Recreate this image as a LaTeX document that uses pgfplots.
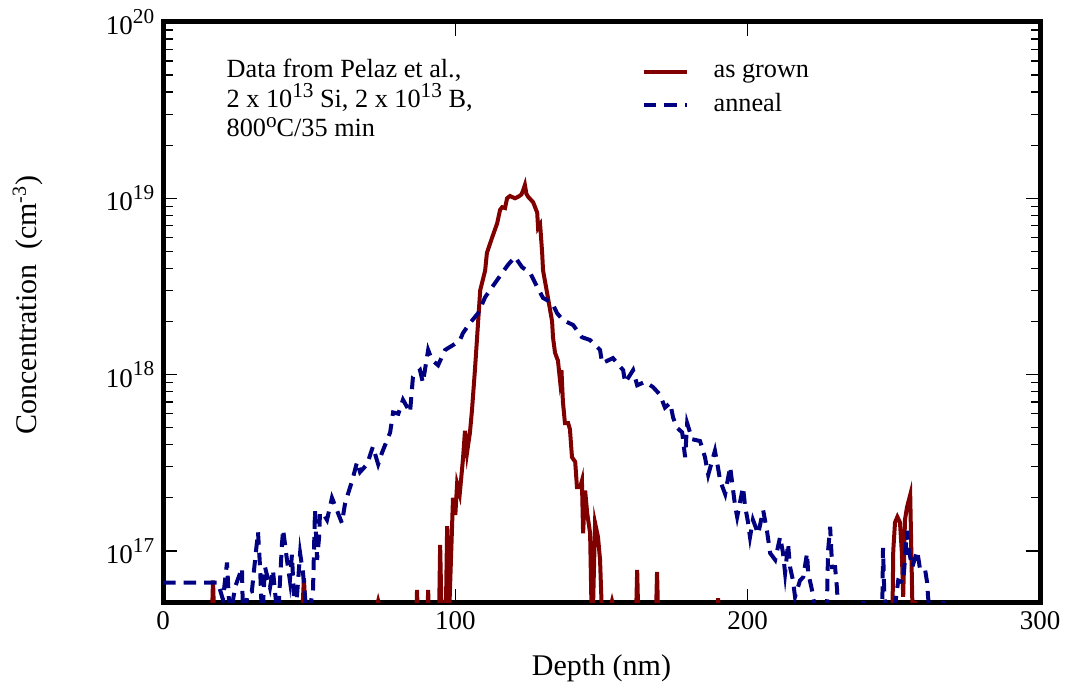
\documentclass[border=0pt]{standalone}
\usepackage{fontspec}
\setmainfont{Liberation Serif}
\usepackage{pgfplots}
\pgfplotsset{compat=1.18}
\definecolor{grown}{RGB}{128,0,0}
\definecolor{anneal}{RGB}{0,0,128}
\newcommand\sups[1]{\raisebox{0.42em}{\fontsize{8.5pt}{10pt}\selectfont #1}}
\newcommand\asups[1]{\smash{\raisebox{0.36em}{\fontsize{8.5pt}{10pt}\selectfont #1}}}
\begin{document}
\begin{tikzpicture}
\begin{axis}[
  scale only axis, width=350.8pt, height=232.4pt,
  xmin=0, xmax=300, ymode=log, ymin=5.07e16, ymax=1e20,
  xtick={0,100,200,300}, minor x tick num=0,
  ytick={1e17,1e18,1e19,1e20},
  yticklabels={10\sups{17},10\sups{18},10\sups{19},10\sups{20}},
  tick align=inside,
  axis line style={line width=2pt},
  major tick length=5.6pt, minor tick length=3.8pt,
  every tick/.style={black, line width=0.5pt},
  tick label style={font=\fontsize{10.8}{12}\selectfont},
  /pgf/number format/assume math mode=true,
  xlabel={Depth (nm)},
  ylabel={Concentration~~(cm\textsuperscript{-3})},
  label style={font=\fontsize{12}{14}\selectfont},
  xlabel style={at={(axis description cs:0.5,-0.112)}, anchor=center},
  ylabel style={at={(axis description cs:-0.154,0.513)}, anchor=center},
  legend style={draw=none, fill=none, at={(rel axis cs:0.537,0.946)}, anchor=north west,
    font=\fontsize{10.5}{12}\selectfont, row sep=1pt, column sep=8pt},
  legend cell align=left,
]
\addplot[grown, line width=1.6pt] coordinates {
(0,3e16) (16.5,3e16) (17.1,6.8e16) (17.8,3e16) (47.2,3e16) (48.2,7.0e16) (49.3,3e16)
(72.8,4.6e16) (73.6,5.2e16) (74.4,4.6e16) (86.4,3e16) (86.9,6.0e16) (87.4,3e16)
(90.2,3e16) (90.7,6.0e16) (91.2,3e16) (94.3,3e16) (94.8,1.08e17) (95.5,3e16)
(96.6,3e16) (97.2,1.38e17) (98.0,5e16) (99.2,2.0e17) (100.0,1.6e17) (100.6,2.4e17)
(101.5,2.1e17) (102.6,3.3e17) (103.3,4.8e17) (104.0,3.6e17) (105.0,4.7e17) (105.7,6.3e17)
(106.7,1.06e18) (107.8,2.0e18) (108.5,3.0e18) (110.2,3.9e18) (110.8,4.9e18) (112.6,6.0e18)
(114.3,7.2e18) (115.3,8.6e18) (116.0,8.9e18) (117.0,8.8e18) (117.7,1.0e19) (118.7,1.03e19)
(120.4,1.0e19) (121.5,1.02e19) (122.6,1.05e19) (123.2,1.11e19) (123.8,1.19e19) (124.3,1.06e19)
(124.9,1.02e19) (126.6,9.5e18) (128.0,8.3e18) (128.3,6.8e18) (129.0,7.1e18) (129.7,4.9e18)
(130.0,3.9e18) (131.4,2.9e18) (133.1,2.0e18) (133.4,1.63e18) (134.1,1.33e18) (135.1,1.2e18)
(135.8,9.3e17) (136.3,1.06e18) (136.8,7.0e17) (137.5,5.3e17) (138.6,5.3e17) (139.2,4.9e17)
(139.9,3.4e17) (141.0,3.2e17) (141.6,2.3e17) (142.7,2.3e17) (143.3,2.5e17) (143.7,1.26e17)
(144.4,2.2e17) (145.1,1.64e17) (146.1,1.26e17) (146.8,3e16) (147.8,1.44e17) (148.8,1.2e17)
(149.5,8.9e16) (150.5,3e16) (152.8,4.6e16) (153.6,5.2e16) (154.4,4.6e16) (161.6,3e16)
(162.2,7.8e16) (162.8,3e16) (168.4,3e16) (169.0,7.6e16) (169.6,3e16) (189.4,3e16)
(189.9,5.4e16) (190.4,3e16) (249.4,3e16) (249.8,1.0e17) (250.4,1.45e17) (251.2,1.56e17)
(252.1,1.45e17) (252.7,1.0e17) (253.2,5.5e16) (253.8,1.5e17) (254.5,1.77e17) (255.6,2.08e17)
(256.6,3e16) (257.3,5.2e16) (258.2,3e16) (300,3e16)
};
\addlegendentry{as grown}
\addplot[anneal, line width=1.6pt, dash pattern=on 5pt off 3.2pt] coordinates {
(0,6.6e16) (16.1,6.6e16) (18.8,6.6e16) (20.5,5.3e16) (21.9,8.6e16) (22.9,4e16) (24.6,6.2e16)
(27.0,8.0e16) (27.4,4e16) (29.1,5.8e16) (30.4,5.9e16) (31.5,8.9e16) (32.5,1.28e17) (33.2,8.1e16)
(33.9,4e16) (34.9,8.1e16) (36.6,6.2e16) (37.6,7.8e16) (39.3,4e16) (40.7,1.1e17) (41.1,1.32e17)
(42.4,8.9e16) (43.4,6.8e16) (44.1,9.5e16) (45.2,4e16) (46.9,9.7e16) (47.9,7.5e16) (49.3,4e16)
(51.3,5.9e16) (52.0,1.71e17) (52.7,8.9e16) (53.4,1.2e17) (53.7,1.64e17) (54.7,1.64e17)
(56.1,1.5e17) (57.8,2.0e17) (59.5,1.7e17) (61.2,1.44e17) (62.3,1.87e17) (64.7,2.5e17)
(66.4,3.2e17) (67.4,2.8e17) (69.8,3.1e17) (71.8,3.9e17) (73.6,3.1e17) (74.9,3.6e17)
(77.7,4.7e17) (78.7,6.1e17) (80.5,6.0e17) (82.1,7.2e17) (84.5,6.1e17) (85.5,9.7e17)
(87.9,1.06e18) (88.9,9.0e17) (90.7,1.38e18) (92.0,1.21e18) (94.1,1.13e18) (96.5,1.38e18)
(99.2,1.47e18) (101.6,1.57e18) (102.6,1.72e18) (105.0,1.96e18) (107.8,2.23e18) (110.2,2.75e18)
(113.6,3.31e18) (116.0,3.77e18) (118.0,4.19e18) (120.4,4.65e18) (122.8,4.07e18) (125.6,3.77e18)
(128.0,3.14e18) (130.0,2.72e18) (133.1,2.55e18) (134.8,2.23e18) (136.8,2.04e18) (140.3,1.91e18)
(143.3,1.63e18) (146.1,1.57e18) (149.5,1.38e18) (150.2,1.16e18) (153.9,1.24e18) (157.4,1.06e18)
(158.1,9.0e17) (160.8,1.06e18) (162.2,8.7e17) (164.9,9.1e17) (167.6,8.5e17) (170.0,7.7e17)
(171.7,6.5e17) (173.5,6.9e17) (174.5,5.7e17) (175.8,5.0e17) (177.6,4.7e17) (178.6,3.4e17)
(179.3,5.3e17) (181.0,4.3e17) (183.7,4.2e17) (185.4,3.4e17) (186.5,2.7e17) (188.8,3.7e17)
(189.8,3.0e17) (190.6,2.5e17) (192.3,2.1e17) (194.0,3.0e17) (195.7,1.8e17) (196.4,1.56e17)
(198.4,2.3e17) (199.1,1.8e17) (200.1,1.46e17) (200.8,1.2e17) (201.8,1.5e17) (203.6,1.25e17)
(205.3,1.7e17) (206.6,1.3e17) (207.7,9.7e16) (209.4,8.9e16) (211.1,1.2e17) (212.1,9.7e16)
(212.8,7.5e16) (213.8,1.1e17) (214.5,8.1e16) (215.5,6.8e16) (216.2,5.5e16) (217.9,6.8e16)
(219.0,7.1e16) (220.3,9.7e16) (220.7,7.5e16) (222.0,6.0e16) (223.7,4e16) (227.0,4e16)
(227.5,1.0e17) (228.2,1.37e17) (228.9,8.1e16) (229.9,8.1e16) (230.6,6.0e16) (231.0,4e16)
(239.2,4e16) (239.5,5.2e16) (239.8,4e16) (246.0,4e16) (246.3,1.04e17) (246.7,6e16) (247.5,4e16)
(249.7,4e16) (251.5,6.8e16) (253.2,6.6e16) (254.5,1.3e17) (254.9,1.05e17) (256.3,8.1e16)
(258.0,1.0e17) (259.0,7.8e16) (260.7,7.8e16) (261.4,6.6e16) (261.7,5.5e16) (262.5,4e16)
(266.5,4e16) (266.8,5.2e16) (267.1,4e16) (300,4e16)
};
\addlegendentry{anneal}
\node[anchor=north west, align=left, inner sep=0pt, font=\fontsize{10.5}{11.8}\selectfont]
  at (rel axis cs:0.072,0.937)
  {Data from Pelaz et al.,\\ 2 x 10\asups{13} Si, 2 x 10\asups{13} B,\\ 800\asups{o}C/35 min};
\end{axis}
\pgfresetboundingbox
\path ([shift={(-65.2pt,-34pt)}]current axis.south west) rectangle ([shift={(10.8pt,8.8pt)}]current axis.north east);
\end{tikzpicture}
\end{document}
